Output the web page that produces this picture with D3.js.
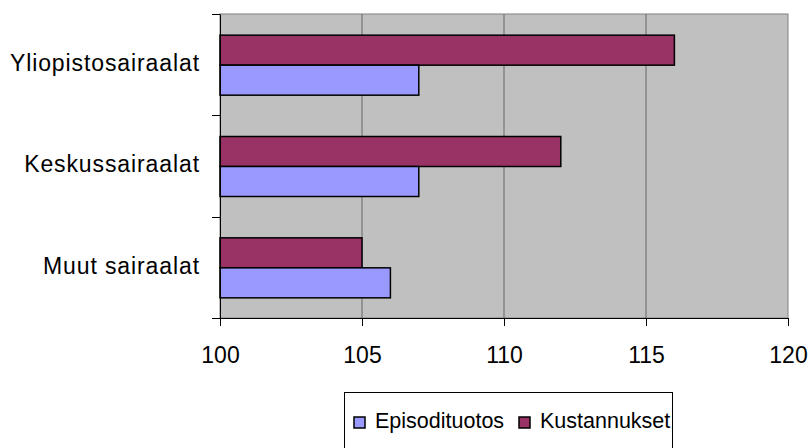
<!DOCTYPE html>
<html>
<head>
<meta charset="utf-8">
<script src="https://cdn.jsdelivr.net/npm/d3@7"></script>
<style>
  body { margin: 0; background: #fff; }
  text { font-family: "Liberation Sans", Arial, sans-serif; }
</style>
</head>
<body>
<script>
const leveys = 810
const korkeus = 448
const reunat = {vasen: 220, oikea: 788, ylä: 14, ala: 318}

const sairaalat = ['Yliopistosairaalat', 'Keskussairaalat', 'Muut sairaalat']
const sarjat = ['Kustannukset', 'Episodituotos']
const kustannukset = [116, 112, 105]
const episodituotos = [107, 107, 106]
const akselinArvot = [100, 105, 110, 115, 120]
const legendaJarjestys = ['Episodituotos', 'Kustannukset']

const varit = {Episodituotos: '#9999FF', Kustannukset: '#993366'}

var dadot = sairaalat.map(function (s, i) {
  return {sairaala: s, Kustannukset: kustannukset[i], Episodituotos: episodituotos[i]}
})

var svg = d3.select('body').append('svg').attr('width', leveys).attr('height', korkeus)

var x = d3.scaleLinear().domain([100, 120]).range([reunat.vasen, reunat.oikea])
var y = d3.scaleBand().domain(sairaalat).range([reunat.ylä, reunat.ala])
var ySisa = d3.scaleBand().domain(sarjat).range([0, 60])

// taustaa
svg.append('rect')
   .attr('x', reunat.vasen).attr('y', reunat.ylä)
   .attr('width', reunat.oikea - reunat.vasen).attr('height', reunat.ala - reunat.ylä)
   .attr('fill', '#C0C0C0')
   .attr('stroke', '#808080').attr('stroke-width', 1)

// ruudukko
svg.append('g').selectAll('line')
   .data(akselinArvot.slice(1, -1))
   .join('line')
   .attr('x1', d => x(d)).attr('x2', d => x(d))
   .attr('y1', reunat.ylä).attr('y2', reunat.ala)
   .attr('stroke', '#666').attr('stroke-width', 1)

// palkit
var ryhmat = svg.append('g').selectAll('g')
   .data(dadot)
   .join('g')
   .attr('transform', d => 'translate(0,' + (y(d.sairaala) + (y.bandwidth() - 60) / 2 + 0.5) + ')')

ryhmat.selectAll('rect')
   .data(d => sarjat.map(k => ({sarja: k, arvo: d[k]})))
   .join('rect')
   .attr('x', x(100))
   .attr('y', d => ySisa(d.sarja))
   .attr('width', d => x(d.arvo) - x(100))
   .attr('height', ySisa.bandwidth())
   .attr('fill', d => varit[d.sarja])
   .attr('stroke', '#000').attr('stroke-width', 1.5)

// akselit
var akseliAla = d3.axisBottom(x).tickValues(akselinArvot).tickSize(8).tickPadding(21)
var gAla = svg.append('g').attr('transform', 'translate(0,' + reunat.ala + ')').call(akseliAla)
gAla.select('.domain').attr('stroke', '#000')
gAla.selectAll('line').attr('stroke', '#000')
gAla.selectAll('text').attr('font-size', 23).attr('fill', '#000')

var akseliVasen = d3.axisLeft(y).tickSize(0).tickPadding(20)
var gVasen = svg.append('g').attr('transform', 'translate(' + reunat.vasen + ',0)').call(akseliVasen)
gVasen.select('.domain').attr('stroke', '#000')
gVasen.selectAll('text').attr('font-size', 23).attr('fill', '#000').attr('dy', '0.28em')
      .style('letter-spacing', '0.9px')

// luokkarajat
svg.append('g').selectAll('line')
   .data(sairaalat.map(s => y(s)).concat([reunat.ala]))
   .join('line')
   .attr('x1', reunat.vasen - 8).attr('x2', reunat.vasen)
   .attr('y1', d => Math.round(d) + 0.5).attr('y2', d => Math.round(d) + 0.5)
   .attr('stroke', '#000')

// selite
var selite = svg.append('g').attr('transform', 'translate(344,392)')
selite.append('rect')
   .attr('x', 0.5).attr('y', 0.5).attr('width', 328).attr('height', 70)
   .attr('fill', '#fff').attr('stroke', '#000').attr('stroke-width', 1)

var seliteX = [9, 174]
var kohdat = selite.selectAll('g.kohta')
   .data(legendaJarjestys)
   .join('g').attr('class', 'kohta')
   .attr('transform', (d, i) => 'translate(' + seliteX[i] + ',24)')
kohdat.append('rect')
   .attr('x', 1).attr('y', 1).attr('width', 11).attr('height', 11)
   .attr('fill', d => varit[d]).attr('stroke', '#000').attr('stroke-width', 1.5)
kohdat.append('text')
   .attr('x', 22).attr('y', 12)
   .attr('font-size', 21.5)
   .text(d => d)
</script>
</body>
</html>
